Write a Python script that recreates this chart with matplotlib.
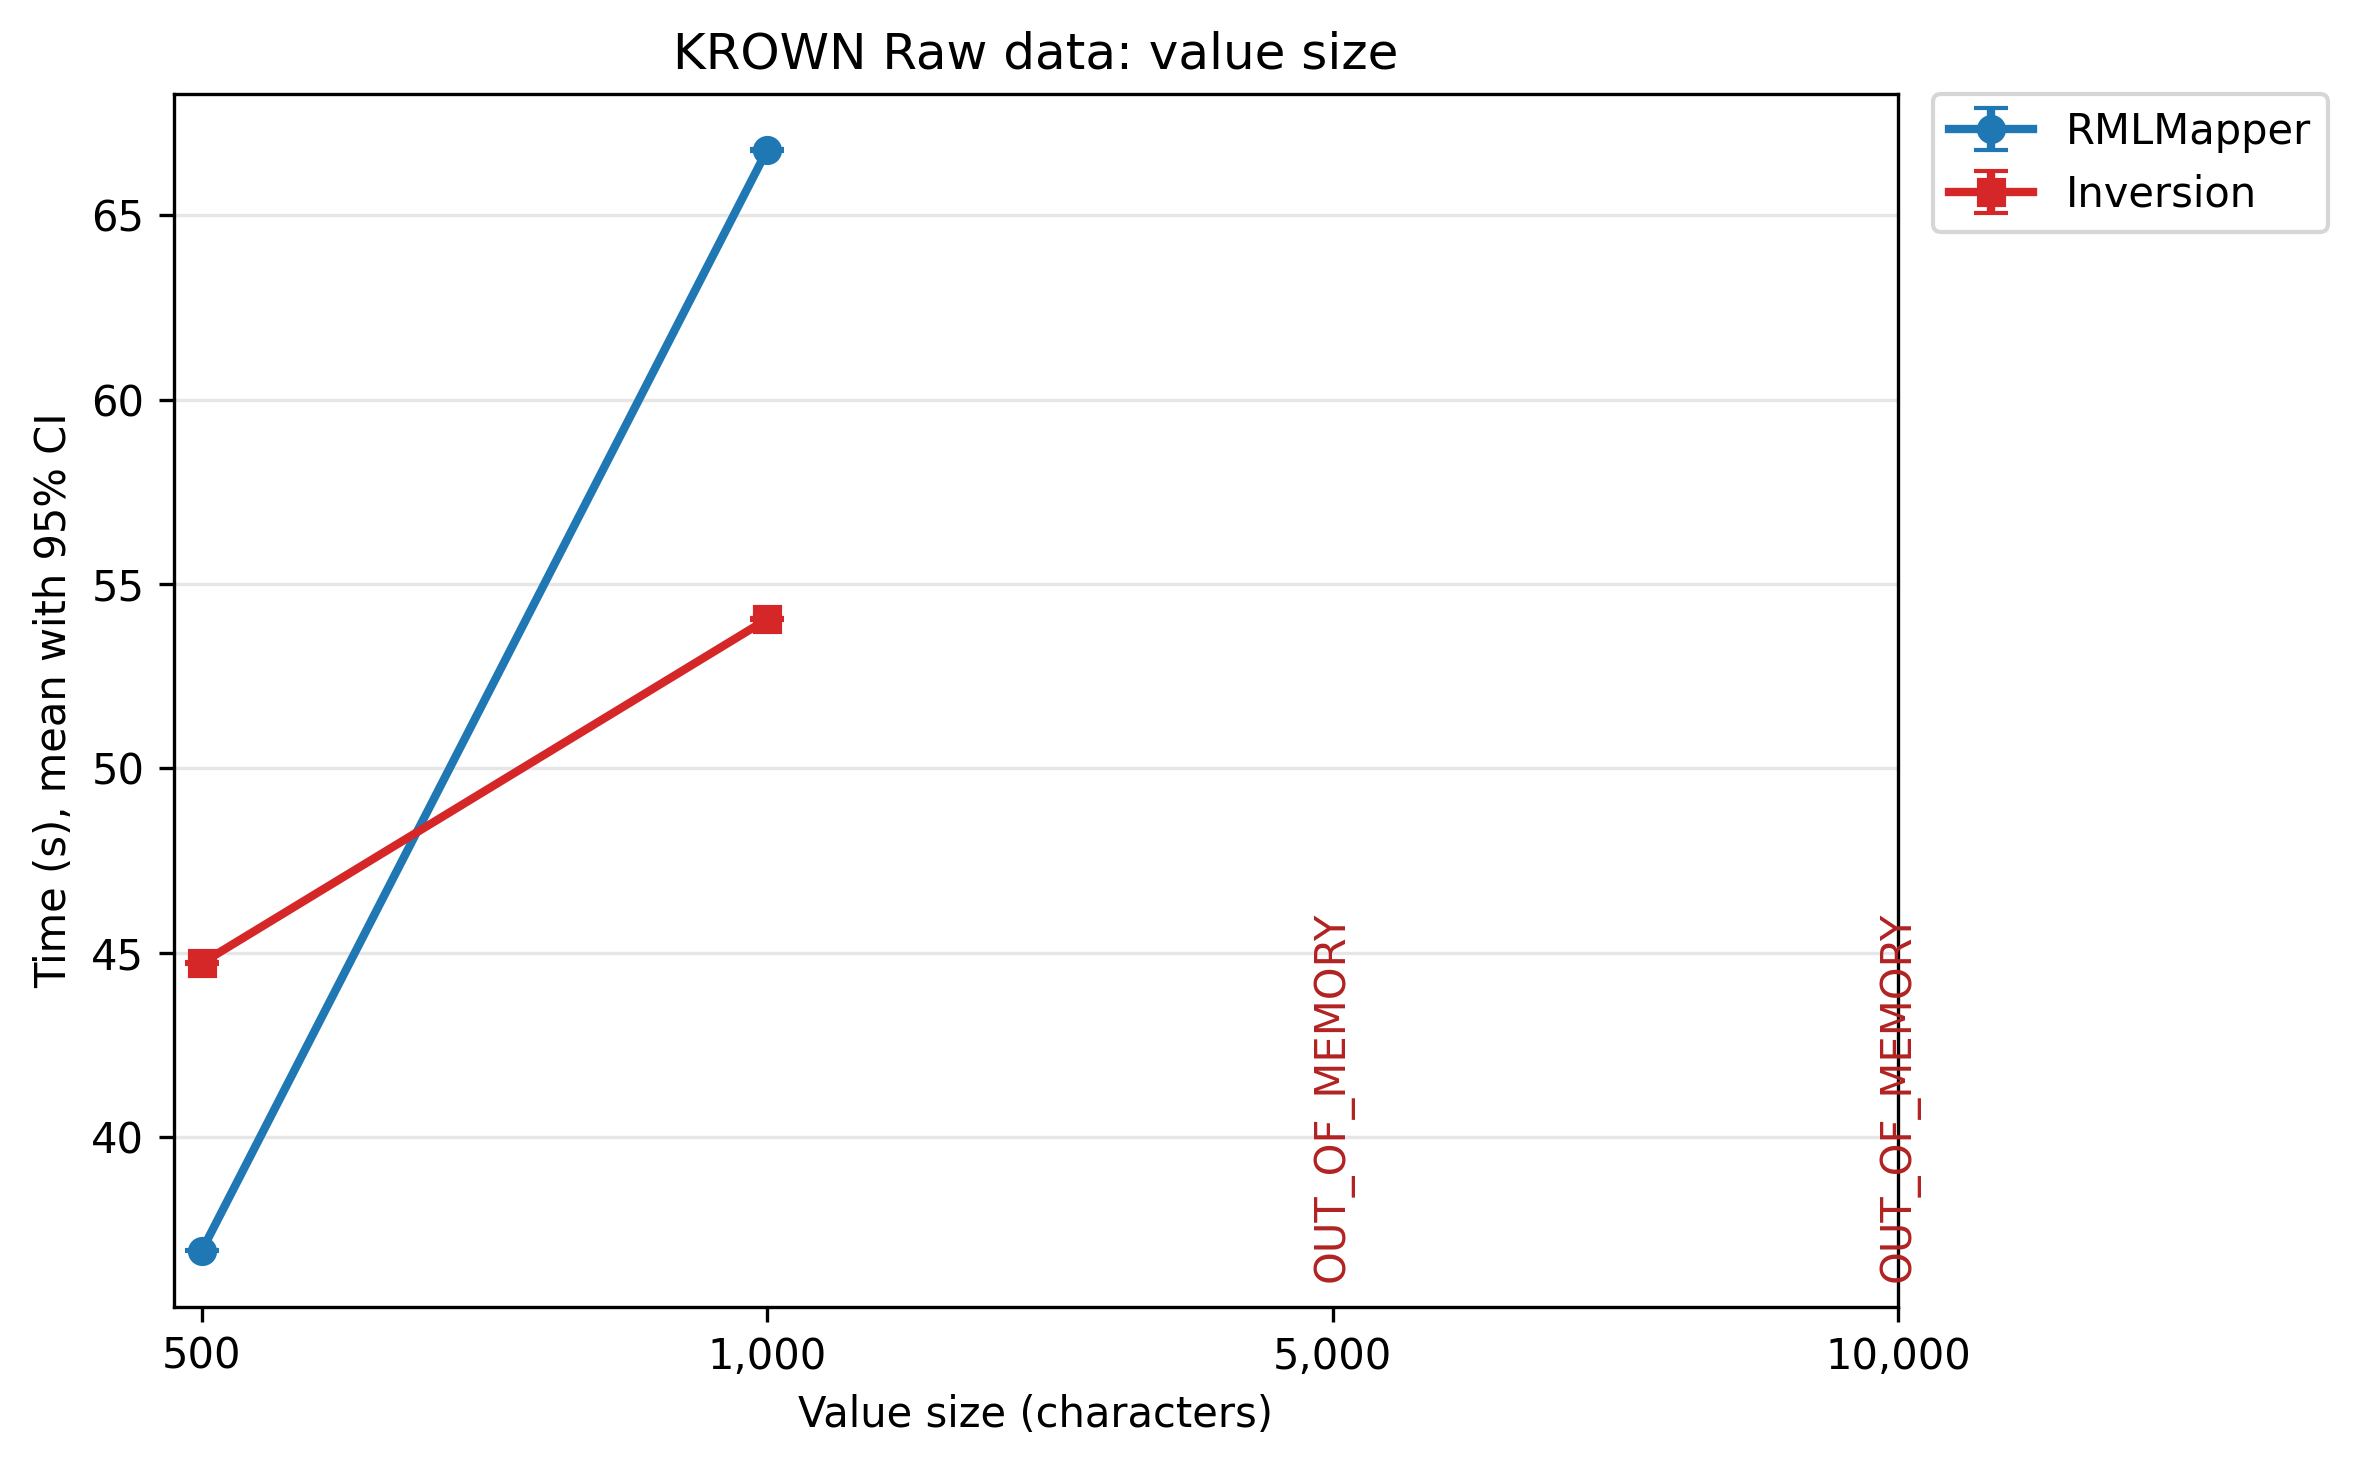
import numpy as np
import matplotlib.pyplot as plt
import matplotlib.transforms as mtransforms

sizes = ["500", "1,000", "5,000", "10,000"]
rml_mean = [36.92, 66.78]
rml_ci = [0.02, 0.02]
inv_mean = [44.72, 54.05]
inv_ci = [0.02, 0.02]
oom_sizes = [2, 3]
oom_label = "OUT_OF_MEMORY"

x = np.arange(len(sizes))

fig = plt.figure(figsize=(2361/300, 1468/300), dpi=300)
ax = fig.add_axes([0.0735, 0.110, 0.7305, 0.826])

ax.errorbar(x[:len(rml_mean)], rml_mean, yerr=rml_ci, color='#1f77b4', marker='o',
            linewidth=2, markersize=6, capsize=4, label='RMLMapper')
ax.errorbar(x[:len(inv_mean)], inv_mean, yerr=inv_ci, color='#d62728', marker='s',
            linewidth=2, markersize=6, capsize=4, label='Inversion')

trans = mtransforms.blended_transform_factory(ax.transData, ax.transAxes)
for xi in oom_sizes:
    ax.text(xi, 0.02, oom_label, rotation=90, ha='center', va='bottom',
            color='#b22222', fontsize=10, transform=trans)

ax.set_xticks(x)
ax.set_xticklabels(sizes)
ax.set_xlim(-0.05, 3.0)
ax.grid(axis='y', color='#e6e6e6', linewidth=0.8)
ax.set_axisbelow(True)

ax.set_title("KROWN Raw data: value size")
ax.set_xlabel("Value size (characters)")
ax.set_ylabel("Time (s), mean with 95% CI")
ax.legend(loc='upper left', bbox_to_anchor=(1.02, 1), borderaxespad=0)

fig.savefig('out.png', dpi=300)
